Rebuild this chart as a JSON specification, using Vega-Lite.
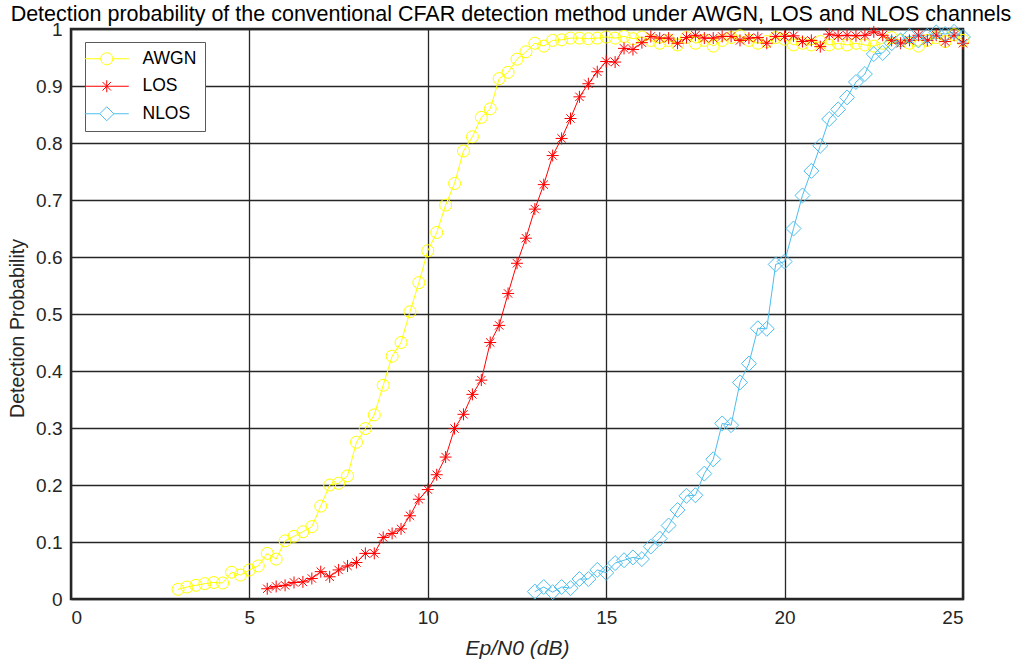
{
  "$schema": "https://vega.github.io/schema/vega-lite/v6.json",
  "width": 892,
  "height": 570,
  "autosize": "none",
  "padding": {"left": 71, "top": 29, "right": 69, "bottom": 67},
  "background": "white",
  "title": {"text": "Detection probability of the conventional CFAR detection method under AWGN, LOS and NLOS channels", "fontSize": 21.5, "font": "Liberation Sans", "fontWeight": "normal", "color": "#000000", "anchor": "middle", "offset": 0, "dx": -6, "dy": 5},
  "data": {"values": [
    {"s":"AWGN","x":3,"p":0.017},{"s":"AWGN","x":3.25,"p":0.021},{"s":"AWGN","x":3.5,"p":0.024},{"s":"AWGN","x":3.75,"p":0.027},{"s":"AWGN","x":4,"p":0.029},{"s":"AWGN","x":4.25,"p":0.028},{"s":"AWGN","x":4.5,"p":0.047},{"s":"AWGN","x":4.75,"p":0.042},{"s":"AWGN","x":5,"p":0.051},{"s":"AWGN","x":5.25,"p":0.058},{"s":"AWGN","x":5.5,"p":0.08},{"s":"AWGN","x":5.75,"p":0.07},{"s":"AWGN","x":6,"p":0.102},{"s":"AWGN","x":6.25,"p":0.11},{"s":"AWGN","x":6.5,"p":0.118},{"s":"AWGN","x":6.75,"p":0.127},{"s":"AWGN","x":7,"p":0.163},{"s":"AWGN","x":7.25,"p":0.2},{"s":"AWGN","x":7.5,"p":0.203},{"s":"AWGN","x":7.75,"p":0.216},{"s":"AWGN","x":8,"p":0.275},{"s":"AWGN","x":8.25,"p":0.299},{"s":"AWGN","x":8.5,"p":0.323},{"s":"AWGN","x":8.75,"p":0.375},{"s":"AWGN","x":9,"p":0.426},{"s":"AWGN","x":9.25,"p":0.45},{"s":"AWGN","x":9.5,"p":0.504},{"s":"AWGN","x":9.75,"p":0.555},{"s":"AWGN","x":10,"p":0.611},{"s":"AWGN","x":10.25,"p":0.643},{"s":"AWGN","x":10.5,"p":0.691},{"s":"AWGN","x":10.75,"p":0.729},{"s":"AWGN","x":11,"p":0.786},{"s":"AWGN","x":11.25,"p":0.811},{"s":"AWGN","x":11.5,"p":0.845},{"s":"AWGN","x":11.75,"p":0.86},{"s":"AWGN","x":12,"p":0.913},{"s":"AWGN","x":12.25,"p":0.924},{"s":"AWGN","x":12.5,"p":0.947},{"s":"AWGN","x":12.75,"p":0.96},{"s":"AWGN","x":13,"p":0.975},{"s":"AWGN","x":13.25,"p":0.97},{"s":"AWGN","x":13.5,"p":0.98},{"s":"AWGN","x":13.75,"p":0.981},{"s":"AWGN","x":14,"p":0.984},{"s":"AWGN","x":14.25,"p":0.984},{"s":"AWGN","x":14.5,"p":0.983},{"s":"AWGN","x":14.75,"p":0.984},{"s":"AWGN","x":15,"p":0.986},{"s":"AWGN","x":15.25,"p":0.984},{"s":"AWGN","x":15.5,"p":0.987},{"s":"AWGN","x":15.75,"p":0.983},{"s":"AWGN","x":16,"p":0.986},{"s":"AWGN","x":16.25,"p":0.98},{"s":"AWGN","x":16.5,"p":0.975},{"s":"AWGN","x":16.75,"p":0.98},{"s":"AWGN","x":17,"p":0.972},{"s":"AWGN","x":17.25,"p":0.985},{"s":"AWGN","x":17.5,"p":0.975},{"s":"AWGN","x":17.75,"p":0.98},{"s":"AWGN","x":18,"p":0.97},{"s":"AWGN","x":18.25,"p":0.98},{"s":"AWGN","x":18.5,"p":0.985},{"s":"AWGN","x":18.75,"p":0.988},{"s":"AWGN","x":19,"p":0.98},{"s":"AWGN","x":19.25,"p":0.975},{"s":"AWGN","x":19.5,"p":0.978},{"s":"AWGN","x":19.75,"p":0.985},{"s":"AWGN","x":20,"p":0.982},{"s":"AWGN","x":20.25,"p":0.972},{"s":"AWGN","x":20.5,"p":0.975},{"s":"AWGN","x":20.75,"p":0.972},{"s":"AWGN","x":21,"p":0.978},{"s":"AWGN","x":21.25,"p":0.972},{"s":"AWGN","x":21.5,"p":0.975},{"s":"AWGN","x":21.75,"p":0.972},{"s":"AWGN","x":22,"p":0.975},{"s":"AWGN","x":22.25,"p":0.972},{"s":"AWGN","x":22.5,"p":0.97},{"s":"AWGN","x":22.75,"p":0.975},{"s":"AWGN","x":23,"p":0.985},{"s":"AWGN","x":23.25,"p":0.98},{"s":"AWGN","x":23.5,"p":0.975},{"s":"AWGN","x":23.75,"p":0.97},{"s":"AWGN","x":24,"p":0.98},{"s":"AWGN","x":24.25,"p":0.985},{"s":"AWGN","x":24.5,"p":0.978},{"s":"AWGN","x":24.75,"p":0.99},{"s":"AWGN","x":25,"p":0.98},
    {"s":"LOS","x":5.5,"p":0.018},{"s":"LOS","x":5.75,"p":0.022},{"s":"LOS","x":6,"p":0.024},{"s":"LOS","x":6.25,"p":0.029},{"s":"LOS","x":6.5,"p":0.03},{"s":"LOS","x":6.75,"p":0.036},{"s":"LOS","x":7,"p":0.048},{"s":"LOS","x":7.25,"p":0.039},{"s":"LOS","x":7.5,"p":0.051},{"s":"LOS","x":7.75,"p":0.058},{"s":"LOS","x":8,"p":0.064},{"s":"LOS","x":8.25,"p":0.08},{"s":"LOS","x":8.5,"p":0.08},{"s":"LOS","x":8.75,"p":0.108},{"s":"LOS","x":9,"p":0.115},{"s":"LOS","x":9.25,"p":0.123},{"s":"LOS","x":9.5,"p":0.146},{"s":"LOS","x":9.75,"p":0.175},{"s":"LOS","x":10,"p":0.192},{"s":"LOS","x":10.25,"p":0.218},{"s":"LOS","x":10.5,"p":0.249},{"s":"LOS","x":10.75,"p":0.299},{"s":"LOS","x":11,"p":0.324},{"s":"LOS","x":11.25,"p":0.359},{"s":"LOS","x":11.5,"p":0.384},{"s":"LOS","x":11.75,"p":0.45},{"s":"LOS","x":12,"p":0.48},{"s":"LOS","x":12.25,"p":0.536},{"s":"LOS","x":12.5,"p":0.589},{"s":"LOS","x":12.75,"p":0.633},{"s":"LOS","x":13,"p":0.684},{"s":"LOS","x":13.25,"p":0.727},{"s":"LOS","x":13.5,"p":0.778},{"s":"LOS","x":13.75,"p":0.808},{"s":"LOS","x":14,"p":0.843},{"s":"LOS","x":14.25,"p":0.881},{"s":"LOS","x":14.5,"p":0.904},{"s":"LOS","x":14.75,"p":0.925},{"s":"LOS","x":15,"p":0.943},{"s":"LOS","x":15.25,"p":0.942},{"s":"LOS","x":15.5,"p":0.966},{"s":"LOS","x":15.75,"p":0.964},{"s":"LOS","x":16,"p":0.976},{"s":"LOS","x":16.25,"p":0.987},{"s":"LOS","x":16.5,"p":0.984},{"s":"LOS","x":16.75,"p":0.984},{"s":"LOS","x":17,"p":0.975},{"s":"LOS","x":17.25,"p":0.985},{"s":"LOS","x":17.5,"p":0.989},{"s":"LOS","x":17.75,"p":0.984},{"s":"LOS","x":18,"p":0.984},{"s":"LOS","x":18.25,"p":0.987},{"s":"LOS","x":18.5,"p":0.987},{"s":"LOS","x":18.75,"p":0.98},{"s":"LOS","x":19,"p":0.984},{"s":"LOS","x":19.25,"p":0.985},{"s":"LOS","x":19.5,"p":0.975},{"s":"LOS","x":19.75,"p":0.987},{"s":"LOS","x":20,"p":0.987},{"s":"LOS","x":20.25,"p":0.988},{"s":"LOS","x":20.5,"p":0.978},{"s":"LOS","x":20.75,"p":0.98},{"s":"LOS","x":21,"p":0.969},{"s":"LOS","x":21.25,"p":0.991},{"s":"LOS","x":21.5,"p":0.988},{"s":"LOS","x":21.75,"p":0.989},{"s":"LOS","x":22,"p":0.988},{"s":"LOS","x":22.25,"p":0.989},{"s":"LOS","x":22.5,"p":0.995},{"s":"LOS","x":22.75,"p":0.989},{"s":"LOS","x":23,"p":0.98},{"s":"LOS","x":23.25,"p":0.975},{"s":"LOS","x":23.5,"p":0.98},{"s":"LOS","x":23.75,"p":0.989},{"s":"LOS","x":24,"p":0.98},{"s":"LOS","x":24.25,"p":0.989},{"s":"LOS","x":24.5,"p":0.978},{"s":"LOS","x":24.75,"p":0.989},{"s":"LOS","x":25,"p":0.975},
    {"s":"NLOS","x":13,"p":0.013},{"s":"NLOS","x":13.25,"p":0.021},{"s":"NLOS","x":13.5,"p":0.012},{"s":"NLOS","x":13.75,"p":0.021},{"s":"NLOS","x":14,"p":0.019},{"s":"NLOS","x":14.25,"p":0.035},{"s":"NLOS","x":14.5,"p":0.035},{"s":"NLOS","x":14.75,"p":0.051},{"s":"NLOS","x":15,"p":0.046},{"s":"NLOS","x":15.25,"p":0.063},{"s":"NLOS","x":15.5,"p":0.068},{"s":"NLOS","x":15.75,"p":0.073},{"s":"NLOS","x":16,"p":0.07},{"s":"NLOS","x":16.25,"p":0.092},{"s":"NLOS","x":16.5,"p":0.106},{"s":"NLOS","x":16.75,"p":0.129},{"s":"NLOS","x":17,"p":0.156},{"s":"NLOS","x":17.25,"p":0.181},{"s":"NLOS","x":17.5,"p":0.182},{"s":"NLOS","x":17.75,"p":0.22},{"s":"NLOS","x":18,"p":0.245},{"s":"NLOS","x":18.25,"p":0.308},{"s":"NLOS","x":18.5,"p":0.305},{"s":"NLOS","x":18.75,"p":0.38},{"s":"NLOS","x":19,"p":0.413},{"s":"NLOS","x":19.25,"p":0.475},{"s":"NLOS","x":19.5,"p":0.474},{"s":"NLOS","x":19.75,"p":0.587},{"s":"NLOS","x":20,"p":0.592},{"s":"NLOS","x":20.25,"p":0.65},{"s":"NLOS","x":20.5,"p":0.708},{"s":"NLOS","x":20.75,"p":0.751},{"s":"NLOS","x":21,"p":0.795},{"s":"NLOS","x":21.25,"p":0.842},{"s":"NLOS","x":21.5,"p":0.859},{"s":"NLOS","x":21.75,"p":0.88},{"s":"NLOS","x":22,"p":0.907},{"s":"NLOS","x":22.25,"p":0.921},{"s":"NLOS","x":22.5,"p":0.956},{"s":"NLOS","x":22.75,"p":0.958},{"s":"NLOS","x":23,"p":0.975},{"s":"NLOS","x":23.25,"p":0.98},{"s":"NLOS","x":23.5,"p":0.988},{"s":"NLOS","x":23.75,"p":0.98},{"s":"NLOS","x":24,"p":0.988},{"s":"NLOS","x":24.25,"p":0.994},{"s":"NLOS","x":24.5,"p":0.991},{"s":"NLOS","x":24.75,"p":0.995},{"s":"NLOS","x":25,"p":0.986}
  ]},
  "encoding": {
    "x": {"field": "x", "type": "quantitative", "scale": {"domain": [0, 25], "nice": false, "zero": false},
      "axis": {"title": "Ep/N0 (dB)", "values": [0, 5, 10, 15, 20, 25], "titleFontStyle": "italic", "titleFontSize": 21, "labelPadding": 9, "titlePadding": 10}},
    "y": {"field": "p", "type": "quantitative", "scale": {"domain": [0, 1], "nice": false},
      "axis": {"title": "Detection Probability", "values": [0, 0.1, 0.2, 0.3, 0.4, 0.5, 0.6, 0.7, 0.8, 0.9, 1], "format": ".1~f", "titleFontSize": 19.5, "labelPadding": 9, "titlePadding": 8, "titleY": 299}},
    "color": {"field": "s", "type": "nominal", "scale": {"domain": ["AWGN", "LOS", "NLOS"], "range": ["#FFFF00", "#FF0000", "#4DBEEE"]},
      "legend": {
        "title": null,
        "orient": "none",
        "legendX": 14,
        "legendY": 13,
        "fillColor": "#FFFFFF",
        "strokeColor": "#5a5a5a",
        "padding": 8,
        "rowPadding": 8.5,
        "symbolSize": 100,
        "symbolOffset": 5,
        "symbolStrokeWidth": 1,
        "symbolOpacity": 1,
        "symbolFillColor": "transparent",
        "labelOffset": 27,
        "labelFontSize": 17.5,
        "labelFont": "Liberation Sans",
        "labelColor": "#000000"
      }}
  },
  "layer": [
    {"mark": {"type": "line", "strokeWidth": 1}},
    {"transform": [{"filter": "datum.s === 'AWGN'"}],
      "mark": {"type": "point", "filled": false, "strokeWidth": 1, "size": 196, "opacity": 1, "shape": "M0.857,0A0.857,0.857 0 1,1 -0.857,0A0.857,0.857 0 1,1 0.857,0Z"}},
    {"transform": [{"filter": "datum.s === 'LOS'"}],
      "mark": {"type": "point", "filled": false, "strokeWidth": 1, "size": 196, "opacity": 1, "shape": "M0,-0.857L0,0.857M-0.857,0L0.857,0M-0.6,-0.6L0.6,0.6M-0.6,0.6L0.6,-0.6"}},
    {"transform": [{"filter": "datum.s === 'NLOS'"}],
      "mark": {"type": "point", "filled": false, "strokeWidth": 1, "size": 196, "opacity": 1, "shape": "M0,-1.07L1.07,0L0,1.07L-1.07,0Z"}},
    {"mark": {"type": "point", "filled": false, "strokeWidth": 1, "opacity": 0},
      "encoding": {"shape": {"field": "s", "type": "nominal",
        "scale": {"domain": ["AWGN", "LOS", "NLOS"], "range": [
          "M-4.4,0L-1.2,0M1.2,0L4.4,0M1.2,0A1.2,1.2 0 1,1 -1.2,0A1.2,1.2 0 1,1 1.2,0",
          "M-4.4,0L4.4,0M0,-1.2L0,1.2M-0.85,-0.85L0.85,0.85M-0.85,0.85L0.85,-0.85",
          "M-4.4,0L-1.4,0M1.4,0L4.4,0M0,-1.4L1.4,0L0,1.4L-1.4,0Z"]},
        "legend": {"title": null, "orient": "none", "legendX": 14, "legendY": 13, "symbolSize": 100, "symbolOffset": 5, "symbolOpacity": 1, "symbolFillColor": "transparent", "symbolStrokeWidth": 1}}}}
  ],
  "config": {
    "view": {"stroke": "#262626", "strokeWidth": 2.5},
    "axis": {
      "grid": true, "gridColor": "#262626", "gridWidth": 1.3, "gridOpacity": 1,
      "domain": false, "ticks": false,
      "labelFont": "Liberation Sans", "labelFontSize": 19, "labelColor": "#262626",
      "titleFont": "Liberation Sans", "titleFontWeight": "normal", "titleColor": "#262626"
    }
  }
}
